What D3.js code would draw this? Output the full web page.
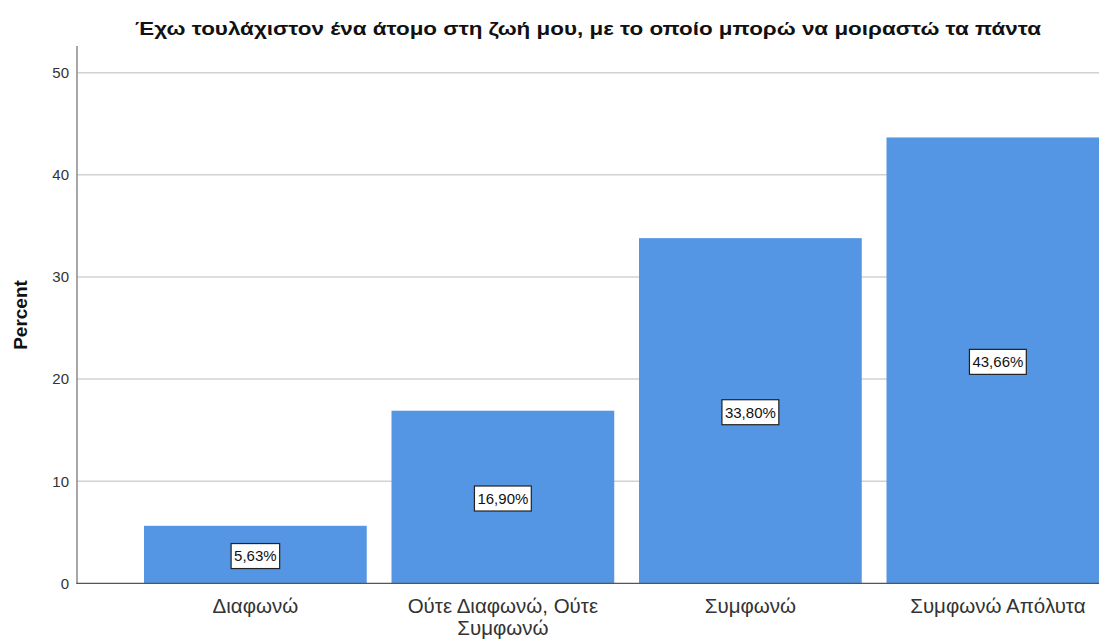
<!DOCTYPE html>
<html><head><meta charset="utf-8">
<script src="https://cdn.jsdelivr.net/npm/d3@7"></script>
<style>body{margin:0;background:#fff}svg{display:block}</style>
</head><body>
<svg id="chart" width="1099" height="639"></svg>
<script>
const title = "Έχω τουλάχιστον ένα άτομο στη ζωή μου, με το οποίο μπορώ να μοιραστώ τα πάντα";
const categories = ["Διαφωνώ", "Ούτε Διαφωνώ, Ούτε Συμφωνώ", "Συμφωνώ", "Συμφωνώ Απόλυτα"];
const categoryLines = [["Διαφωνώ"], ["Ούτε Διαφωνώ, Ούτε", "Συμφωνώ"], ["Συμφωνώ"], ["Συμφωνώ Απόλυτα"]];
const percents = [5.63, 16.90, 33.80, 43.66];
const valueLabels = ["5,63%", "16,90%", "33,80%", "43,66%"];
const yTicks = [0, 10, 20, 30, 40, 50];
const yLabel = "Percent";

const svg = d3.select("#chart");
const W = 1099, H = 639;
const axisX = 77, y0 = 583.3, yTop = 72.7;
const font = "'Liberation Sans', Arial, sans-serif";

const y = d3.scaleLinear().domain([0, 50]).range([y0, yTop]);
const x = d3.scaleBand().domain(categories).range([119.25, 1134]).paddingInner(0.1).paddingOuter(0.1);

// gridlines
svg.append("g").selectAll("line").data(yTicks.filter(d => d > 0)).join("line")
  .attr("x1", axisX).attr("x2", W).attr("y1", d => y(d)).attr("y2", d => y(d))
  .attr("stroke", "#d2d2d2").attr("stroke-width", 1.5);

// bars
svg.append("g").selectAll("rect").data(percents).join("rect")
  .attr("x", (d, i) => x(categories[i])).attr("width", x.bandwidth())
  .attr("y", d => y(d)).attr("height", d => y0 - y(d))
  .attr("fill", "#5496e3");

// axes lines
svg.append("line").attr("x1", axisX).attr("x2", axisX).attr("y1", 46).attr("y2", y0)
  .attr("stroke", "#8a8a8a").attr("stroke-width", 1.5);
svg.append("line").attr("x1", axisX - 0.75).attr("x2", W).attr("y1", y0).attr("y2", y0)
  .attr("stroke", "#555").attr("stroke-width", 1.3);

// y tick labels
svg.append("g").selectAll("text").data(yTicks).join("text")
  .attr("x", 69).attr("y", d => y(d)).attr("dy", "0.36em")
  .attr("text-anchor", "end").attr("font-family", font).attr("font-size", 15)
  .attr("fill", "#333").text(d => d);

// y label
svg.append("text").attr("transform", "translate(27,315) rotate(-90)")
  .attr("text-anchor", "middle").attr("font-family", font).attr("font-size", 19)
  .attr("font-weight", "bold").attr("fill", "#111").text(yLabel);

// title
svg.append("text").attr("x", 588).attr("y", 35).attr("text-anchor", "middle")
  .attr("font-family", font).attr("font-size", 19).attr("font-weight", "bold")
  .attr("textLength", 906).attr("lengthAdjust", "spacingAndGlyphs")
  .attr("fill", "#111").text(title);

// category labels
const cat = svg.append("g").selectAll("text").data(categoryLines).join("text")
  .attr("x", (d, i) => x(categories[i]) + x.bandwidth() / 2).attr("y", 613)
  .attr("text-anchor", "middle").attr("font-family", font).attr("font-size", 20.5)
  .attr("fill", "#333");
cat.selectAll("tspan").data(d => d).join("tspan")
  .attr("x", function() { return d3.select(this.parentNode).attr("x"); })
  .attr("dy", (d, i) => i === 0 ? 0 : 22).text(d => d);

// value labels
const vl = svg.append("g").selectAll("g").data(percents).join("g")
  .attr("transform", (d, i) => `translate(${x(categories[i]) + x.bandwidth() / 2},${(y(d) + y0) / 2 + 1.5})`);
vl.append("text").attr("text-anchor", "middle").attr("dy", "0.36em")
  .attr("font-family", font).attr("font-size", 15).attr("fill", "#111")
  .text((d, i) => valueLabels[i]);
vl.each(function() {
  const g = d3.select(this);
  const bb = g.select("text").node().getBBox();
  g.insert("rect", "text").attr("x", bb.x - 3).attr("y", -12.5).attr("width", bb.width + 6).attr("height", 25)
    .attr("fill", "#fff").attr("stroke", "#222").attr("stroke-width", 1.2);
});
</script>
</body></html>
